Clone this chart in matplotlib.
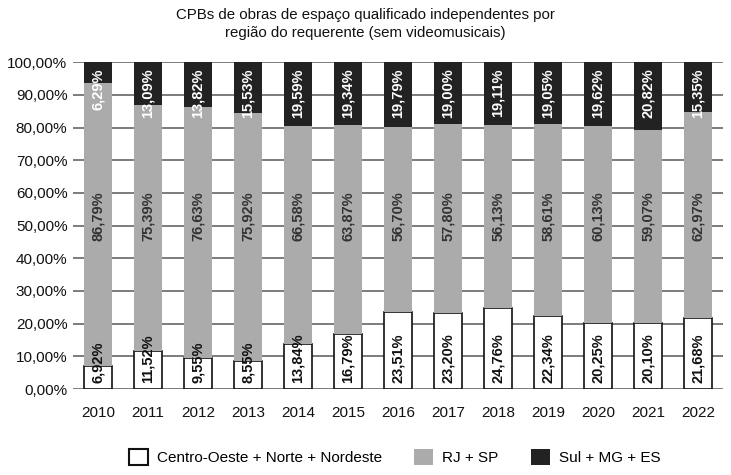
import matplotlib.pyplot as plt
from matplotlib.patches import Patch
import matplotlib.transforms as mtransforms

plt.rcParams['font.family'] = ['Liberation Sans', 'DejaVu Sans']

# data
anos = ["2010", "2011", "2012", "2013", "2014", "2015", "2016",
        "2017", "2018", "2019", "2020", "2021", "2022"]
centro_oeste = [6.92, 11.52, 9.55, 8.55, 13.84, 16.79, 23.51,
                23.20, 24.76, 22.34, 20.25, 20.10, 21.68]
rj_sp = [86.79, 75.39, 76.63, 75.92, 66.58, 63.87, 56.70,
         57.80, 56.13, 58.61, 60.13, 59.07, 62.97]
sul = [6.29, 13.09, 13.82, 15.53, 19.59, 19.34, 19.79,
       19.00, 19.11, 19.05, 19.62, 20.82, 15.35]
yticks = [0, 10, 20, 30, 40, 50, 60, 70, 80, 90, 100]

def fmt(v):
    return f"{v:.2f}".replace(".", ",") + "%"

fig = plt.figure(figsize=(7.31, 4.75), dpi=100)
ax = fig.add_axes([0.0999, 0.181, 0.889, 0.688])

x = range(len(anos))
w = 0.55
bottom2 = centro_oeste
bottom3 = [a + b for a, b in zip(centro_oeste, rj_sp)]
ax.bar(x, centro_oeste, w, color='white', edgecolor='#111111', linewidth=1.2, zorder=3)
ax.bar(x, rj_sp, w, bottom=bottom2, color='#ababab', linewidth=0, zorder=3)
ax.bar(x, sul, w, bottom=bottom3, color='#222222', linewidth=0, zorder=3)

# labels: white at base, gray fixed middle, black at top
up = mtransforms.offset_copy(ax.transData, fig=fig, x=0, y=6, units='dots')
down = mtransforms.offset_copy(ax.transData, fig=fig, x=0, y=-6, units='dots')
for i in x:
    ax.text(i, 0, fmt(centro_oeste[i]), rotation=90, ha='center', va='bottom',
            fontsize=10.5, fontweight='bold', color='#111111', transform=up, zorder=5)
    ax.text(i, 53, fmt(rj_sp[i]), rotation=90, ha='center', va='center',
            fontsize=10.5, fontweight='bold', color='#333333', zorder=5)
    ax.text(i, 100, fmt(sul[i]), rotation=90, ha='center', va='top',
            fontsize=10.5, fontweight='bold', color='white', transform=down, zorder=5)

ax.set_xlim(-0.5, len(anos) - 0.5)
ax.set_ylim(0, 100)
ax.set_yticks(yticks)
ax.set_yticklabels([f"{t:.2f}".replace(".", ",") + "%" for t in yticks])
ax.set_xticks(list(x))
ax.set_xticklabels(anos)
ax.tick_params(axis='both', length=0, labelsize=11, colors='#111111')
ax.tick_params(axis='x', pad=12)
ax.tick_params(axis='y', pad=4)
for s in ax.spines.values():
    s.set_visible(False)
ax.grid(axis='y', color='#666666', linewidth=1.2, zorder=0)
ax.set_axisbelow(True)

fig.text(0.5, 0.984, "CPBs de obras de espaço qualificado independentes por\nregião do requerente (sem videomusicais)",
         ha='center', va='top', fontsize=10.8, color='#111111', linespacing=1.4)

handles = [Patch(facecolor='white', edgecolor='#111111', linewidth=1.5),
           Patch(facecolor='#ababab', edgecolor='none'),
           Patch(facecolor='#222222', edgecolor='none')]
fig.legend(handles, ["Centro-Oeste + Norte + Nordeste", "RJ + SP", "Sul + MG + ES"],
           loc='center', bbox_to_anchor=(0.54, 0.038), ncol=3, frameon=False,
           fontsize=11, handlelength=1.25, handleheight=1.3, handletextpad=0.6,
           columnspacing=2.1)

fig.savefig("out.png", dpi=100)
